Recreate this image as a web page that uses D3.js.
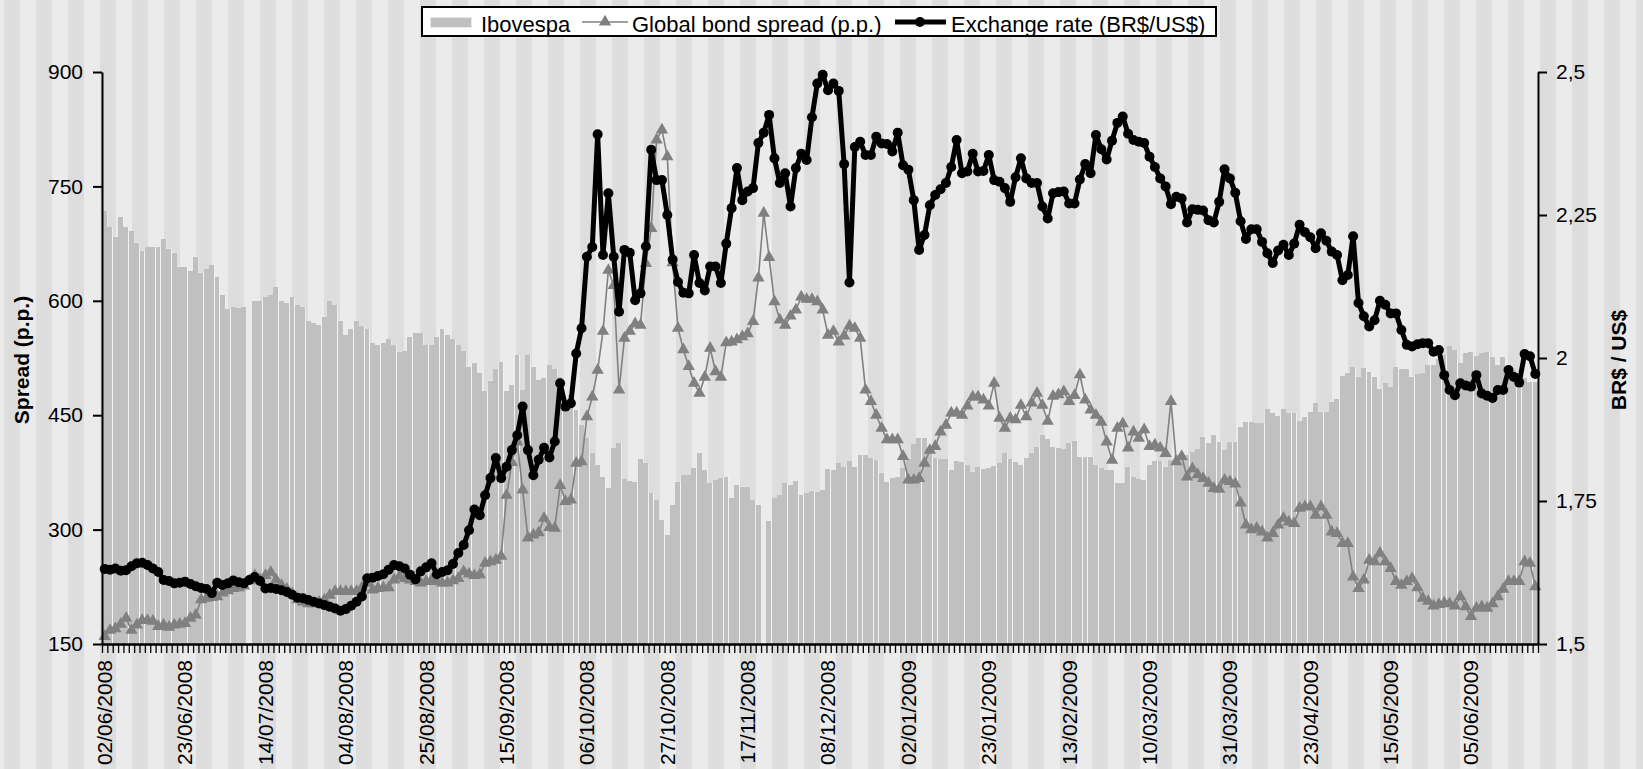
<!DOCTYPE html>
<html>
<head>
<meta charset="utf-8">
<script src="https://cdnjs.cloudflare.com/ajax/libs/d3/7.8.5/d3.min.js"></script>
<style>
  html, body { margin: 0; padding: 0; background: #ebebeb; overflow: hidden; }
  svg { display: block; font-family: "Liberation Sans", Arial, sans-serif; }
</style>
</head>
<body>
<script>
'use strict';

// trading days: weekdays between first and last day, minus days with no quote at all
const firstDay = "2008-06-02";
const lastDay = "2009-06-24";
const holidays = ["2008-12-24", "2008-12-25", "2008-12-31", "2009-01-01", "2009-02-23",
  "2009-02-24", "2009-04-10", "2009-04-21", "2009-05-01", "2009-06-11"];

// Ibovespa close (points), null = exchange closed
const ibovespa = [
  71770, 69630, 68400, 70940, 69630, 69180, 67610, 66560, 67050, 67050,
  67050, 68130, 66820, 66300, 64460, 64460, 63940, 65780, 63680, 64160,
  64690, 63070, 60750, 58920, 59140, 59090, 59140, null, 59970, 59970,
  60450, 60750, 61760, 60010, 59740, 60450, 59440, 59220, 57350, 57120,
  56820, 57830, 59970, 59440, 57380, 55510, 56260, 57350, 56730, 56260,
  54420, 54200, 54420, 54950, 54200, 53320, 53450, 55210, 55730, 55730,
  54200, 54200, 55210, 56260, 55510, 54950, 54200, 53450, 51350, 51800,
  50490, 48210, 49520, 51010, 52010, 48210, 48950, 52890, 48300, 52890,
  51350, 49610, 49830, 51580, 51010, 50040, 46110, 47640, 45680, 43710,
  41970, 40000, 38470, 36930, 35410, 40660, 41310, 36590, 36370, 36200,
  39210, 38690, 34760, 33880, 31260, 29290, 33220, 36280, 37160, 37160,
  38030, 40000, 37810, 36070, 36500, 36800, 36930, 34100, 35840, 35620,
  35620, 33880, 33220, null, 31170, 34100, 34530, 36070, 35840, 36410,
  34530, 34760, 35100, 34970, 35190, 37900, 37810, 38690, 38170, 38990,
  38240, 39780, 39780, 39350, 39120, 37460, 36280, 36720, 36930, 38030,
  39210, 41220, 41970, 41970, 40660, 39350, 39210, 39210, 37810, 39030,
  38900, 38470, 37590, 38170, 37900, 38030, 38340, 38690, 40000, 39210,
  38900, 38470, 39350, 40000, 40870, 42400, 41840, 40870, 40660, 40530,
  41390, 41650, 39560, 39560, 39560, 38470, 38070, 37810, 37810, 36110,
  36110, 38240, 36890, 36630, 36500, 38470, 38990, 38990, 38240, 39120,
  39780, 40040, 39780, 40170, 40560, 42180, 41350, 42400, 41520, 40430,
  41520, 41520, 43490, 44100, 44100, 43970, 43970, 45770, 45280, 44890,
  45770, 45240, 45240, 44270, 44800, 45450, 46560, 45450, 45450, 46770,
  47080, 50130, 50570, 51280, 50040, 51140, 50700, 50040, 48390, 49180,
  48730, 51350, 51010, 51010, 50040, 50400, 50570, 51580, 51580, 52360,
  52890, 54070, 53540, 51800, 53110, 53320, 52760, 53110, 53320, 52660,
  51580, 52660, 50920, 50920, 49830, 49830, 49390, 49390
];

// global bond spread, p.p.
const spread = [
  160, 168, 170, 176, 184, 168, 175, 181, 181, 180,
  173, 175, 172, 175, 176, 177, 184, 188, 208, 210,
  211, 212, 217, 220, 223, 224, 226, 233, 240, 234,
  240, 244, 234, 227, 222, 216, 208, 205, 203, 203,
  205, 208, 214, 219, 219, 219, 219, 219, 224, 230,
  221, 223, 224, 224, 234, 239, 236, 234, 232, 230,
  232, 234, 232, 230, 230, 233, 236, 245, 242, 240,
  241, 256, 258, 260, 265, 345, 388, 415, 352, 289,
  293, 296, 315, 303, 302, 358, 337, 339, 387, 389,
  448, 474, 509, 560, 640, 620, 483, 551, 560, 570,
  568, 649, 695, 811, 824, 789, 650, 564, 536, 514,
  492, 479, 500, 538, 507, 500, 545, 546, 549, 553,
  557, 573, 630, 715, 657, 599, 575, 568, 580, 588,
  605, 602, 602, 599, 588, 555, 560, 546, 554, 567,
  564, 551, 483, 468, 450, 433, 418, 418, 418, 396,
  365, 365, 367, 387, 404, 409, 428, 437, 453, 453,
  450, 462, 474, 474, 470, 462, 492, 446, 433, 446,
  444, 463, 448, 466, 479, 463, 442, 475, 477, 481,
  468, 476, 503, 470, 457, 450, 441, 415, 391, 433,
  439, 407, 428, 420, 431, 409, 411, 407, 400, 468,
  389, 396, 369, 380, 372, 367, 361, 354, 353, 365,
  363, 360, 335, 306, 300, 302, 297, 289, 295, 306,
  315, 310, 308, 328, 330, 330, 319, 330, 319, 297,
  295, 282, 282, 238, 223, 234, 260, 258, 269, 258,
  249, 232, 227, 232, 236, 224, 210, 206, 200, 202,
  204, 203, 200, 212, 199, 186, 197, 199, 197, 203,
  212, 222, 232, 232, 232, 258, 256, 225
];

// exchange rate, BR$ per US$
const exchange = [
  1.631, 1.630, 1.632, 1.628, 1.629, 1.636, 1.641, 1.642, 1.638, 1.632,
  1.626, 1.612, 1.610, 1.606, 1.607, 1.609, 1.605, 1.601, 1.598, 1.596,
  1.589, 1.607, 1.603, 1.606, 1.611, 1.608, 1.606, 1.612, 1.617, 1.610,
  1.597, 1.598, 1.596, 1.594, 1.591, 1.586, 1.581, 1.580, 1.577, 1.574,
  1.571, 1.568, 1.565, 1.562, 1.558, 1.561, 1.567, 1.574, 1.583, 1.615,
  1.616, 1.619, 1.622, 1.630, 1.638, 1.636, 1.632, 1.621, 1.613, 1.627,
  1.634, 1.641, 1.622, 1.626, 1.629, 1.640, 1.659, 1.673, 1.699, 1.735,
  1.725, 1.760, 1.790, 1.825, 1.790, 1.810, 1.839, 1.865, 1.915, 1.839,
  1.795, 1.822, 1.843, 1.826, 1.854, 1.956, 1.915, 1.921, 2.008, 2.052,
  2.177, 2.194, 2.391, 2.180, 2.288, 2.177, 2.081, 2.189, 2.184, 2.101,
  2.113, 2.195, 2.364, 2.311, 2.311, 2.250, 2.172, 2.133, 2.114, 2.113,
  2.180, 2.131, 2.118, 2.160, 2.160, 2.131, 2.200, 2.262, 2.332, 2.276,
  2.291, 2.297, 2.376, 2.394, 2.425, 2.349, 2.306, 2.323, 2.265, 2.332,
  2.357, 2.346, 2.421, 2.480, 2.495, 2.468, 2.480, 2.467, 2.339, 2.132,
  2.369, 2.378, 2.355, 2.355, 2.387, 2.375, 2.374, 2.361, 2.394, 2.337,
  2.329, 2.276, 2.189, 2.215, 2.267, 2.285, 2.295, 2.306, 2.334, 2.381,
  2.323, 2.326, 2.357, 2.326, 2.327, 2.355, 2.311, 2.308, 2.297, 2.273,
  2.316, 2.349, 2.314, 2.306, 2.306, 2.265, 2.244, 2.288, 2.290, 2.291,
  2.270, 2.270, 2.312, 2.339, 2.323, 2.390, 2.365, 2.347, 2.380, 2.411,
  2.422, 2.392, 2.381, 2.378, 2.376, 2.352, 2.334, 2.314, 2.300, 2.269,
  2.282, 2.279, 2.237, 2.260, 2.259, 2.258, 2.241, 2.237, 2.273, 2.330,
  2.314, 2.289, 2.239, 2.208, 2.225, 2.225, 2.203, 2.183, 2.166, 2.188,
  2.198, 2.180, 2.200, 2.233, 2.220, 2.211, 2.192, 2.218, 2.205, 2.186,
  2.180, 2.136, 2.145, 2.213, 2.096, 2.073, 2.055, 2.066, 2.100, 2.093,
  2.078, 2.078, 2.049, 2.023, 2.020, 2.024, 2.026, 2.026, 2.011, 2.014,
  1.970, 1.944, 1.935, 1.956, 1.952, 1.950, 1.970, 1.938, 1.934, 1.930,
  1.944, 1.944, 1.979, 1.967, 1.957, 2.007, 2.003, 1.972
];

const spreadTicks = [150, 300, 450, 600, 750, 900];
const rateTicks = [1.5, 1.75, 2, 2.25, 2.5];
const labelEvery = 15;

const W = 1643, H = 769;
const plot = { left: 102, right: 1538, top: 72, bottom: 644 };

// build the category list
const parseDay = d3.utcParse("%Y-%m-%d");
const isoDay = d3.utcFormat("%Y-%m-%d");
const skip = new Set(holidays);
const categories = d3.utcDays(parseDay(firstDay), d3.utcDay.offset(parseDay(lastDay), 1))
  .filter(d => d.getUTCDay() > 0 && d.getUTCDay() < 6 && !skip.has(isoDay(d)))
  .map(d3.utcFormat("%d/%m/%Y"));

const svg = d3.select('body').append('svg')
  .attr('width', W)
  .attr('height', H);

// striped backdrop
svg.append('rect').attr('width', W).attr('height', H).attr('fill', '#ebebeb');
svg.append('g').selectAll('rect')
  .data(d3.range(4, W, 32))
  .join('rect')
  .attr('x', d => d).attr('y', 0)
  .attr('width', 16).attr('height', H)
  .attr('fill', '#dddddd');

const x = d3.scaleBand()
  .domain(d3.range(categories.length))
  .range([plot.left, plot.right])
  .padding(0);
const xEdge = d3.scaleLinear().domain([0, categories.length]).range([plot.left, plot.right]);
const ySpread = d3.scaleLinear().domain([150, 900]).range([plot.bottom, plot.top]);
const yRate = d3.scaleLinear().domain([1.5, 2.5]).range([plot.bottom, plot.top]);
const yIbov = d3.scaleLinear().domain([15000, 90000]).range([plot.bottom, plot.top]); // not shown
const cx = i => x(i) + x.bandwidth() / 2;

// bars (white underlay so the small gaps look white)
svg.append('path')
  .datum(ibovespa)
  .attr('fill', '#f3f3f3')
  .attr('d', d3.area()
    .defined(d => d != null)
    .x((d, i) => x(i))
    .y0(plot.bottom)
    .y1(d => yIbov(d))
    .curve(d3.curveStepAfter));

svg.append('g').selectAll('rect')
  .data(ibovespa.map((v, i) => ({ v, i })).filter(d => d.v != null))
  .join('rect')
  .attr('x', d => x(d.i))
  .attr('y', d => yIbov(d.v))
  .attr('width', x.bandwidth() - 0.45)
  .attr('height', d => plot.bottom - yIbov(d.v))
  .attr('fill', '#c0c0c0')
  .attr('shape-rendering', 'crispEdges');

// spread line with triangles
svg.append('path')
  .datum(spread)
  .attr('fill', 'none')
  .attr('stroke', '#808080')
  .attr('stroke-width', 1.6)
  .attr('d', d3.line().x((d, i) => cx(i)).y(d => ySpread(d)));

svg.append('g').selectAll('path')
  .data(spread)
  .join('path')
  .attr('transform', (d, i) => `translate(${cx(i)},${ySpread(d)})`)
  .attr('d', d3.symbol(d3.symbolTriangle, 66))
  .attr('fill', '#808080');

// exchange rate line with dots
svg.append('path')
  .datum(exchange)
  .attr('fill', 'none')
  .attr('stroke', '#000')
  .attr('stroke-width', 5)
  .attr('stroke-linejoin', 'round')
  .attr('d', d3.line().x((d, i) => cx(i)).y(d => yRate(d)));

svg.append('g').selectAll('circle')
  .data(exchange)
  .join('circle')
  .attr('cx', (d, i) => cx(i))
  .attr('cy', d => yRate(d))
  .attr('r', 5)
  .attr('fill', '#000');

// axes
function styleAxis(g, width) {
  g.attr('font-family', null);
  g.select('.domain').attr('stroke', '#000').attr('stroke-width', width);
  g.selectAll('.tick line').attr('stroke', '#000').attr('stroke-width', 2);
  g.selectAll('.tick text').attr('font-size', 21).attr('fill', '#000');
}

svg.append('g')
  .attr('transform', `translate(${plot.left},0)`)
  .call(d3.axisLeft(ySpread).tickValues(spreadTicks).tickSize(9).tickSizeOuter(0).tickPadding(10))
  .call(g => styleAxis(g, 2));

svg.append('g')
  .attr('transform', `translate(${plot.right},0)`)
  .call(d3.axisRight(yRate).tickValues(rateTicks).tickSize(9).tickSizeOuter(0).tickPadding(9)
    .tickFormat(d => String(d).replace('.', ',')))
  .call(g => styleAxis(g, 2));

svg.append('g')
  .attr('transform', `translate(0,${plot.bottom})`)
  .call(d3.axisBottom(xEdge).tickValues(d3.range(categories.length + 1)).tickSize(9).tickSizeOuter(0).tickFormat(''))
  .call(g => styleAxis(g, 2.5))
  .call(g => g.selectAll('.tick line').attr('stroke-width', 1.3));

svg.append('g')
  .attr('transform', `translate(0,${plot.bottom})`)
  .call(d3.axisBottom(x).tickValues(d3.range(0, categories.length, labelEvery)).tickSize(0).tickFormat(i => categories[i]))
  .call(g => g.select('.domain').remove())
  .call(g => g.attr('font-family', null))
  .selectAll('text')
  .attr('font-size', 21)
  .attr('fill', '#000')
  .attr('transform', 'rotate(-90)')
  .attr('text-anchor', 'end')
  .attr('x', -16)
  .attr('y', 0)
  .attr('dy', '0.35em');

// axis titles
svg.append('text')
  .attr('transform', 'translate(29,360)rotate(-90)')
  .attr('text-anchor', 'middle')
  .style('font-size', '21px')
  .style('font-weight', 'bold')
  .text('Spread (p.p.)');

svg.append('text')
  .attr('transform', 'translate(1626,360)rotate(-90)')
  .attr('text-anchor', 'middle')
  .style('font-size', '21px')
  .style('font-weight', 'bold')
  .text('BR$ / US$');

// legend
const legend = svg.append('g');
legend.append('rect')
  .attr('x', 422).attr('y', 7)
  .attr('width', 794).attr('height', 29)
  .attr('fill', '#fff')
  .attr('stroke', '#000')
  .attr('stroke-width', 2);

legend.append('rect')
  .attr('x', 430.5).attr('y', 17.5)
  .attr('width', 41).attr('height', 10)
  .attr('fill', '#c0c0c0')
  .attr('stroke', '#e8e8e8');
legend.append('text').attr('x', 481).attr('y', 32).style('font-size', '22px').text('Ibovespa');

legend.append('line')
  .attr('x1', 582).attr('x2', 628).attr('y1', 22).attr('y2', 22)
  .attr('stroke', '#808080').attr('stroke-width', 1.6);
legend.append('path')
  .attr('transform', 'translate(605,22)')
  .attr('d', d3.symbol(d3.symbolTriangle, 66))
  .attr('fill', '#808080');
legend.append('text').attr('x', 632).attr('y', 32).style('font-size', '22px').text('Global bond spread (p.p.)');

legend.append('line')
  .attr('x1', 895).attr('x2', 946).attr('y1', 22).attr('y2', 22)
  .attr('stroke', '#000').attr('stroke-width', 5);
legend.append('circle').attr('cx', 920).attr('cy', 22).attr('r', 5).attr('fill', '#000');
legend.append('text').attr('x', 951).attr('y', 32).style('font-size', '22px').text('Exchange rate (BR$/US$)');
</script>
</body>
</html>
